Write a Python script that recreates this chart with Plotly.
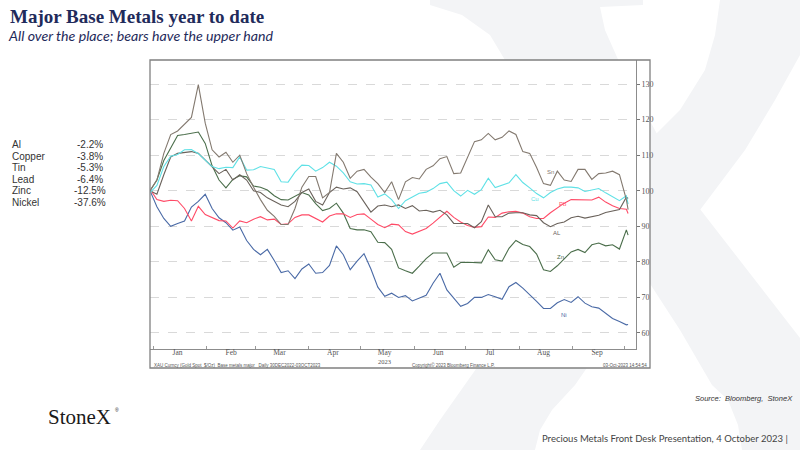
import pandas as pd
import plotly.graph_objects as go

W, H = 800, 450

# readings every 4 days from the start of the Bloomberg window, plus the last fix
dates = list(pd.date_range("2022-12-30", periods=70, freq="4D")) + [pd.Timestamp("2023-10-03")]

sn = [100, 103, 110.5, 115.8, 116.8, 118.8, 120.6, 129.8, 119, 111.5,
      109.5, 110.8, 108, 110, 104.8, 101, 97.5, 94.5, 92.8, 90.5,
      90.5, 95, 101, 104, 104, 98, 99.5, 110.5, 108, 103.5,
      105.5, 106, 103.8, 102, 99.5, 102.5, 97.5, 102.5, 103.7, 103.3,
      106, 107, 109, 109.6, 104.8, 105, 109.3, 113.8, 114.3, 116.1,
      114.3, 115, 116.8, 115.8, 111, 110.5, 106.5, 102, 101.5, 105.5,
      103, 102.6, 106, 106, 103.2, 104.8, 105, 105.5, 104.5, 97.5, 94.7]
cu = [99.5, 101.5, 106.8, 109.7, 110.2, 111.5, 111.6, 110.4, 108.6, 106.8,
      106.2, 106.6, 106.5, 109.5, 105.8, 105.9, 106.8, 106.5, 106, 102.5,
      102.4, 105.2, 107.2, 107.1, 105.5, 106.5, 108, 106.9, 105, 102.5,
      101.9, 102, 101.6, 98.2, 99.1, 97.5, 95, 97.2, 98.3, 99.3,
      99.6, 100.6, 102, 102.4, 100, 98.5, 100.1, 99, 100.3, 103.5,
      100.9, 101.5, 102.2, 104.5, 102.3, 100.8, 99.2, 98, 99.5, 100.5,
      101, 101, 100.8, 99.8, 100.2, 100.6, 99.4, 98.4, 97.2, 98.6, 96.2]
pb = [100.5, 97.5, 97, 97.3, 97.2, 95, 91.5, 95.6, 93.3, 92.5,
      91.6, 91.5, 89.5, 91.5, 91, 92, 92.7, 91.8, 92, 90.5,
      90.7, 92.5, 93.2, 93.2, 92.2, 91.2, 92.9, 93.5, 93.5, 92.5,
      93.3, 93.5, 92, 90.5, 89.6, 90.6, 90.4, 88.5, 87.8, 88.7,
      89.4, 90.9, 92.5, 94.2, 92.5, 91.2, 90.2, 89.7, 89.9, 92.6,
      92.5, 93.7, 94.1, 94.2, 93.7, 92.7, 92.2, 92.2, 93.8, 95.2,
      96.5, 97.5, 97.4, 97.4, 97.4, 98.2, 96.8, 95.8, 95, 94.8, 93.6]
al = [100, 99, 104.5, 109.5, 110.5, 110.8, 111, 110.5, 108.6, 106.5,
      104.8, 106, 103, 104.5, 103, 100, 99.5, 98, 97, 96,
      95.5, 97, 99.5, 100.5, 97, 96, 99.5, 101, 100.5, 100.8,
      99.7, 97, 94, 95.7, 96, 95.5, 96, 95, 95.8, 94.3,
      94.5, 94, 94.5, 93.2, 90.8, 90.8, 90.8, 89.6, 91.3, 96,
      92.7, 92.7, 93.7, 93.8, 93.8, 93.2, 93, 91, 89.9, 90.8,
      91.2, 92.4, 92.8, 92.3, 92.6, 93.1, 93.9, 94.3, 94.7, 98.2, 97.8]
zn = [100, 103, 108.5, 112, 115.5, 115.8, 116.1, 116.5, 113.3, 107,
      103, 100.8, 103.2, 104.2, 103.9, 101.3, 101, 100.2, 98.6, 97.5,
      97.4, 98.5, 99.5, 98.8, 96.4, 94.4, 95, 96.5, 93.7, 89.4,
      89, 89, 88.5, 85.5, 85.4, 83.5, 78.3, 77.5, 76.8, 78.8,
      80.9, 82.5, 82.6, 82.5, 78.5, 79.8, 79.9, 79.7, 79.7, 83.4,
      80.6, 80.2, 83.8, 86, 84.9, 84.3, 82.2, 77.8, 77.3, 78.9,
      80.9, 82.8, 83.5, 82.6, 84.8, 85.3, 84.5, 84.8, 83.6, 89, 87.5]
ni = [100, 95.5, 92.2, 90, 90.8, 91.5, 95.4, 97, 99, 95,
      92.4, 91, 88.9, 89.8, 86, 83.5, 82, 83.5, 80.4, 77,
      77.5, 75.3, 78, 79.4, 76.8, 77, 79, 84.5, 82, 77.8,
      80.2, 82.3, 78, 72.9, 70.3, 71.2, 70, 70.5, 69, 69.9,
      70.6, 74, 76.8, 72.1, 69.9, 67.5, 68.3, 70, 70, 70.8,
      70.2, 69.5, 73, 74.2, 72.6, 70.8, 68.9, 66.9, 66.9, 68.5,
      69.4, 68.6, 70.2, 68.4, 67.4, 67, 65.5, 64.1, 63.2, 62.3, 62.4]

# inline series labels
lab_names = ["Sn", "Cu", "Pb", "AL", "Zn", "Ni"]
lab_dates = ["2023-08-19", "2023-08-10", "2023-08-26", "2023-08-23", "2023-08-25", "2023-08-27"]
lab_vals = [105.3, 97.6, 96.4, 88.0, 81.4, 65.0]

# left hand table
tbl_names = ["Al", "Copper", "Tin", "Lead", "Zinc", "Nickel"]
tbl_changes = ["-2.2%", "-3.8%", "-5.3%", "-6.4%", "-12.5%", "-37.6%"]

month_mid = ["2023-%02d-15" % m for m in range(1, 10)]
month_labels = ["Jan", "Feb", "Mar", "Apr", "May", "Jun", "Jul", "Aug", "Sep"]
month_starts = ["2023-%02d-01" % m for m in range(1, 11)]
y_ticks = [60, 70, 80, 90, 100, 110, 120, 130]

series = [
    ("Ni", ni, "#4a6aa6"),
    ("Zn", zn, "#4b6e4b"),
    ("Pb", pb, "#ff4b67"),
    ("AL", al, "#6a625b"),
    ("Cu", cu, "#5fe1e6"),
    ("Sn", sn, "#83796f"),
]
lab_colors = {"Sn": "#83796f", "Cu": "#5fe1e6", "Pb": "#ff4b67",
              "AL": "#6a625b", "Zn": "#4b6e4b", "Ni": "#4a6aa6"}


def px(x):
    return x / W


def py(y):
    return 1 - y / H


def poly(pts):
    return "M " + " L ".join(f"{px(x):.4f},{py(y):.4f}" for x, y in pts) + " Z"


fig = go.Figure()
for name, vals, color in series:
    fig.add_trace(go.Scatter(x=dates, y=vals, mode="lines", name=name,
                             line=dict(color=color, width=1.1), hoverinfo="skip"))

# StoneX "X" watermark behind the slide, then the white chart panel on top of it
wm = "#f3f4f6"
shapes = [
    dict(type="path", path=poly([(430, 0), (643, 0), (643, 5), (600, 7), (605, 30), (625, 75),
                                 (693, 200), (800, 338), (800, 450), (742, 450), (738, 425),
                                 (728, 400), (712, 385), (680, 330), (505, 60), (490, 35),
                                 (462, 15), (430, 5)])),
    dict(type="path", path=poly([(720, 0), (800, 0), (800, 55), (775, 100), (745, 150), (700, 210),
                                 (620, 320), (575, 385), (552, 410), (540, 430), (535, 450),
                                 (420, 450), (440, 420), (560, 250), (640, 150), (680, 110),
                                 (705, 70), (715, 35)])),
]
for s in shapes:
    s.update(xref="paper", yref="paper", fillcolor=wm, line=dict(width=0), layer="below")
shapes.append(dict(type="rect", xref="paper", yref="paper", x0=px(150), x1=px(650),
                   y0=py(368), y1=py(60), fillcolor="white", line=dict(width=0), layer="below"))
shapes.append(dict(type="rect", xref="paper", yref="paper", x0=px(150), x1=px(650),
                   y0=py(368), y1=py(60), fillcolor="rgba(0,0,0,0)",
                   line=dict(color="#808080", width=1.3), layer="above"))

ann = []
navy = "#1f2b5b"
ann.append(dict(text="<b>Major Base Metals year to date</b>", x=px(8), y=py(16),
                font=dict(family="Liberation Serif", size=19, color=navy)))
ann.append(dict(text="<i>All over the place; bears have the upper hand</i>", x=px(6), y=py(36),
                font=dict(family="Lato", size=14.2, color=navy)))

for i, (n, c) in enumerate(zip(tbl_names, tbl_changes)):
    yy = 145 + i * 11.5
    ann.append(dict(text=n, x=px(10), y=py(yy),
                    font=dict(family="Liberation Sans", size=10, color="#333")))
    ann.append(dict(text=c, x=px(90), y=py(yy), xanchor="center",
                    font=dict(family="Liberation Sans", size=10, color="#333")))

for n, d, v in zip(lab_names, lab_dates, lab_vals):
    ann.append(dict(text=n, x=d, y=v, xref="x", yref="y", xanchor="center",
                    font=dict(family="Liberation Sans", size=6, color=lab_colors[n])))

small = dict(family="Liberation Sans", size=4.5, color="#555")
ann.append(dict(text="XAU Curncy (Gold Spot  $/Oz)  Base metals major   Daily 30DEC2022-03OCT2023",
                x=px(152), y=py(365), font=small))
ann.append(dict(text="Copyright\u00a9 2023 Bloomberg Finance L.P.", x=px(453), y=py(365),
                xanchor="center", font=small))
ann.append(dict(text="03-Oct-2023 14:54:54", x=px(649), y=py(365), xanchor="right", font=small))
ann.append(dict(text="2023", x=px(384), y=py(361.5), xanchor="center",
                font=dict(family="Liberation Serif", size=6.5, color="#555")))

ann.append(dict(text="<i>Source:  Bloomberg,  StoneX</i>", x=px(795), y=py(398), xanchor="right",
                font=dict(family="Liberation Sans", size=7.5, color="#333")))
ann.append(dict(text="StoneX", x=px(46), y=py(417),
                font=dict(family="Liberation Serif", size=21, color="#1a1a1a")))
ann.append(dict(text="\u00ae", x=px(113), y=py(410),
                font=dict(family="Liberation Sans", size=5, color="#1a1a1a")))
ann.append(dict(text="Precious Metals Front Desk Presentation, 4 October 2023 |", x=px(790),
                y=py(438), xanchor="right", font=dict(family="Lato", size=9.5, color="#444")))

for a in ann:
    a.setdefault("xref", "paper")
    a.setdefault("yref", "paper")
    a.setdefault("xanchor", "left")
    a.setdefault("yanchor", "middle")
    a["showarrow"] = False

tick_font = dict(family="Liberation Serif", size=8, color="#555")
fig.update_layout(
    width=W, height=H, template="none",
    margin=dict(l=0, r=0, t=0, b=0),
    paper_bgcolor="white", plot_bgcolor="white",
    showlegend=False,
    shapes=shapes, annotations=ann,
    xaxis=dict(domain=[px(150), px(636)], type="date",
               range=["2022-12-30", "2023-10-07 14:00"],
               tickvals=month_mid, ticktext=month_labels, ticks="", ticklen=0,
               ticklabelstandoff=-4,
               showgrid=False, zeroline=False, showline=True,
               linecolor="#8c8c8c", linewidth=1,
               tickfont=dict(family="Liberation Serif", size=7.5, color="#555"),
               minor=dict(tickvals=month_starts, ticks="inside", ticklen=3,
                          tickcolor="#999", showgrid=False),
               automargin=False),
    yaxis=dict(domain=[py(349), py(60)], range=[55.5, 136.75], side="right",
               tickvals=y_ticks, ticks="outside", ticklen=3, tickcolor="#777",
               showline=True, linecolor="#8c8c8c", linewidth=1,
               showgrid=True, gridcolor="#d9d9d9", griddash="dash", gridwidth=1,
               zeroline=False, tickfont=tick_font, automargin=False),
)

# the slide fills the whole window, so drop the page's default body margin
fig.write_html("out.html", config={"displayModeBar": False},
               post_script="document.body.style.margin='0';")
